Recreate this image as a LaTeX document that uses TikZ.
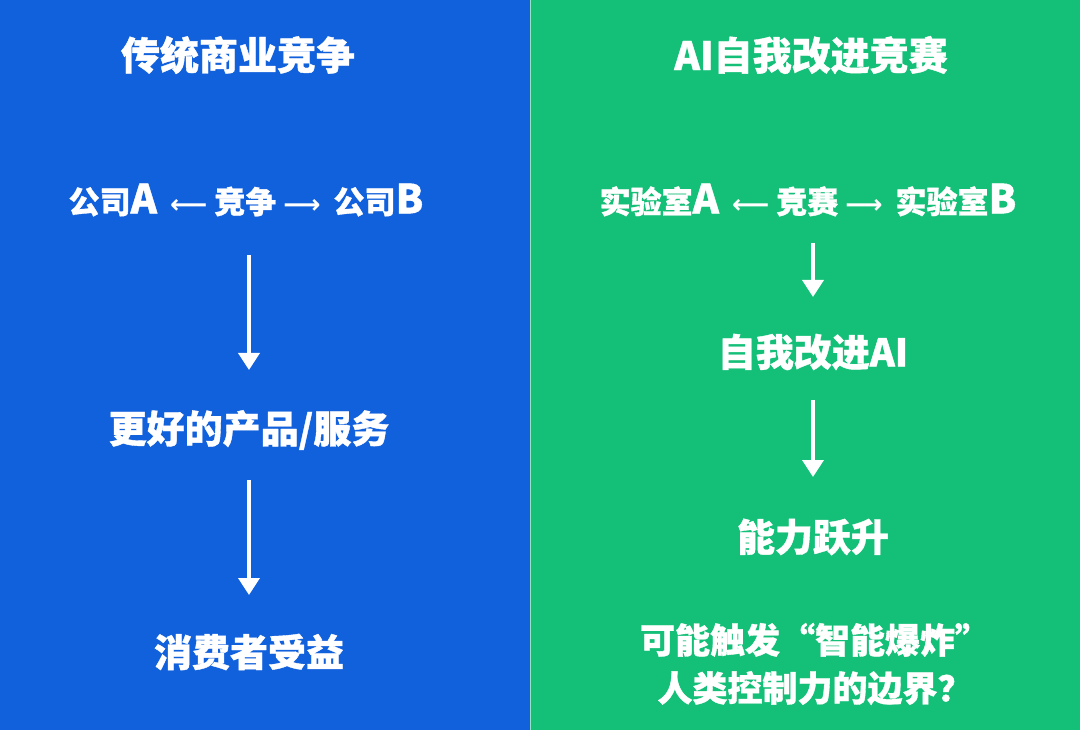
\documentclass[tikz,border=0pt]{standalone}
\usepackage{fontspec}
\usetikzlibrary{arrows.meta}
\newfontfamily\cjk{Noto Sans CJK SC}[FakeBold=1]
\newfontfamily\arrfont{DejaVu Sans}
\newcommand{\larr}{\hspace{13pt}{\arrfont\fontsize{26}{26}\selectfont ⟵}\hspace{7pt}}
\newcommand{\rarr}{\hspace{7pt}{\arrfont\fontsize{26}{26}\selectfont ⟶}\hspace{13pt}}
\newcommand{\lat}[1]{{\fontsize{40}{40}\selectfont #1}}
\definecolor{panelblue}{RGB}{17,96,220}
\definecolor{panelgreen}{RGB}{20,191,120}
\tikzset{
  title/.style={text=white,font=\cjk\bfseries\fontsize{39}{44}\selectfont},
  rowtext/.style={text=white,font=\cjk\bfseries\fontsize{31}{34}\selectfont},
  bigtext/.style={text=white,font=\cjk\bfseries\fontsize{38}{42}\selectfont},
  downarr/.style={draw=white,line width=3.6pt,-{Triangle[width=21pt,length=17pt]}},
}
\begin{document}
\begin{tikzpicture}[x=1pt,y=-1pt]
\useasboundingbox (0,0) rectangle (1080,730);
\fill[panelblue] (0,0) rectangle (530,730);
\fill[panelgreen] (530,0) rectangle (1080,730);
\draw[white!55!panelgreen,line width=1pt] (530.5,0) -- (530.5,730);
% left panel
\node[title] (tL) at (238,55) {传统商业竞争};
\node[rowtext] (rowL) at (246,200) {公司\lat{A}\larr 竞争\rarr 公司\lat{B}};
\node[bigtext] (midL) at (249,430) {更好的产品/服务};
\node[bigtext] (botL) at (249,652) {消费者受益};
\draw[downarr,shorten <=55pt,shorten >=60pt] ([xshift=3pt]rowL.center) -- (midL.center);
\draw[downarr,shorten <=50pt,shorten >=57pt] (midL.center) -- (botL.center);
% right panel
\node[title] (tR) at (811,55) {AI自我改进竞赛};
\node[rowtext] (rowR) at (808,200) {实验室\lat{A}\larr 竞赛\rarr 实验室\lat{B}};
\node[bigtext] (midR) at (813,352) {自我改进AI};
\node[bigtext] (botR) at (813,537) {能力跃升};
\node[bigtext,align=center,font=\cjk\bfseries\fontsize{35}{48}\selectfont] (endR) at (815,664) {可能触发“智能爆炸”\\人类控制力的边界？};
\draw[downarr,shorten <=43pt,shorten >=55pt] ([xshift=5pt]rowR.center) -- (midR.center);
\draw[downarr,shorten <=48pt,shorten >=60pt] (midR.center) -- (botR.center);
\end{tikzpicture}
\end{document}
